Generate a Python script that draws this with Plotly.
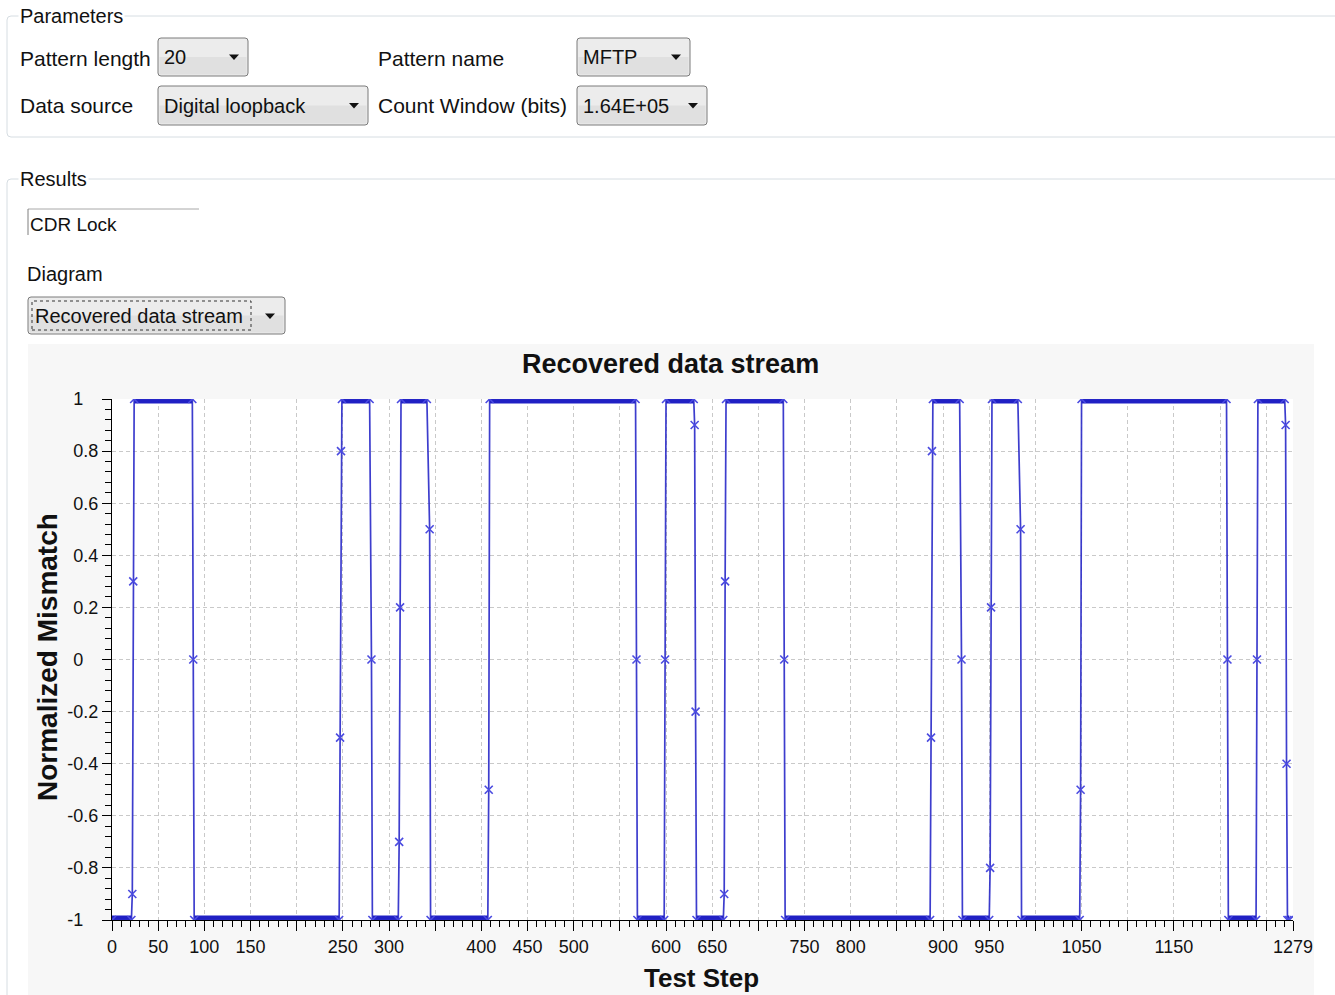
import plotly.graph_objects as go

# ---------------- data ----------------
test_step = [0, 21, 22, 23, 24, 87, 88, 89, 246, 247, 248, 249, 279, 281, 282,
             310, 311, 312, 313, 341, 344, 345, 407, 408, 409, 567, 568, 569,
             598, 599, 600, 630, 631, 632, 633, 662, 663, 664, 665, 727, 728, 729,
             886, 887, 888, 889, 918, 920, 921, 950, 951, 952, 953, 981, 984, 985,
             1048, 1049, 1050, 1207, 1208, 1209, 1239, 1240, 1241, 1270, 1271, 1272,
             1273, 1275]
mismatch = [-1, -1, -0.9, 0.3, 1, 1, 0, -1, -1, -0.3, 0.8, 1, 1, 0, -1,
            -1, -0.7, 0.2, 1, 1, 0.5, -1, -1, -0.5, 1, 1, 0, -1,
            -1, 0, 1, 1, 0.9, -0.2, -1, -1, -0.9, 0.3, 1, 1, 0, -1,
            -1, -0.3, 0.8, 1, 1, 0, -1, -1, -0.8, 0.2, 1, 1, 0.5, -1,
            -1, -0.5, 1, 1, 0, -1, -1, 0, 1, 1, 0.9, -0.4,
            -1, -1]

x_tick_vals = [0, 50, 100, 150, 200, 250, 300, 350, 400, 450, 500, 550, 600, 650,
               700, 750, 800, 850, 900, 950, 1000, 1050, 1100, 1150, 1200, 1250, 1279]
x_tick_text = ['0', '50', '100', '150', '', '250', '300', '', '400', '450', '500', '',
               '600', '650', '', '750', '800', '', '900', '950', '', '1050', '', '1150',
               '', '', '1279']
y_tick_vals = [-1, -0.8, -0.6, -0.4, -0.2, 0, 0.2, 0.4, 0.6, 0.8, 1]
y_tick_text = ['-1\u2008\u2007', '-0.8', '-0.6', '-0.4', '-0.2', '0\u2008\u2007',
               '0.2', '0.4', '0.6', '0.8', '1\u2008\u2007']

chart_title = 'Recovered data stream'
x_title = 'Test Step'
y_title = 'Normalized Mismatch'

param_labels = ['Pattern length', 'Pattern name', 'Data source', 'Count Window (bits)']
combo_values = ['20', 'MFTP', 'Digital loopback', '1.64E+05']
group_titles = ['Parameters', 'Results']
result_field = 'CDR Lock'
diagram_label = 'Diagram'
diagram_value = 'Recovered data stream'

# ---------------- geometry ----------------
W, H = 1335, 995
L, R, T, B = 112, 42, 399, 75
PW, PH = W - L - R, H - T - B


def X(px):
    return (px - L) / PW


def Y(py):
    return (H - B - py) / PH


GUI_FONT = 'Liberation Sans, Arial, sans-serif'
TICK_FONT = 'Liberation Sans, Arial, sans-serif'

# plateau segments (dense samples at +/-1 appear as thick bars)
plat_x, plat_y = [], []
for i in range(len(test_step) - 1):
    if abs(mismatch[i]) == 1 and mismatch[i] == mismatch[i + 1]:
        plat_x += [test_step[i], test_step[i + 1], None]
        plat_y += [mismatch[i], mismatch[i + 1], None]

fig = go.Figure()
fig.add_trace(go.Scatter(x=plat_x, y=plat_y, mode='lines',
                         line=dict(color='#2020c4', width=9),
                         hoverinfo='skip', showlegend=False))
fig.add_trace(go.Scatter(x=test_step, y=mismatch, mode='lines+markers',
                         line=dict(color='rgba(40,40,200,0.9)', width=1.7),
                         marker=dict(symbol='x-thin', size=8, color='#4a4ae0',
                                     line=dict(color='#4a4ae0', width=1.6)),
                         showlegend=False))

shapes = []


def rrect(x0, y0, x1, y1, r, line_color, fill=None, width=1, dash=None):
    p = (f"M{X(x0 + r)},{Y(y0)} L{X(x1 - r)},{Y(y0)} Q{X(x1)},{Y(y0)} {X(x1)},{Y(y0 + r)} "
         f"L{X(x1)},{Y(y1 - r)} Q{X(x1)},{Y(y1)} {X(x1 - r)},{Y(y1)} "
         f"L{X(x0 + r)},{Y(y1)} Q{X(x0)},{Y(y1)} {X(x0)},{Y(y1 - r)} "
         f"L{X(x0)},{Y(y0 + r)} Q{X(x0)},{Y(y0)} {X(x0 + r)},{Y(y0)} Z")
    d = dict(type='path', path=p, xref='paper', yref='paper', layer='above',
             line=dict(color=line_color, width=width))
    if dash:
        d['line']['dash'] = dash
    if fill:
        d['fillcolor'] = fill
    shapes.append(d)


def rect(x0, y0, x1, y1, fill, line=None, layer='below', dash=None, width=1):
    d = dict(type='rect', xref='paper', yref='paper', x0=X(x0), x1=X(x1), y0=Y(y1), y1=Y(y0),
             fillcolor=fill, layer=layer, line=dict(width=0 if line is None else width,
                                                   color=line or 'rgba(0,0,0,0)'))
    if dash:
        d['line']['dash'] = dash
    shapes.append(d)


def seg(x0, y0, x1, y1, color, width=1):
    shapes.append(dict(type='line', xref='paper', yref='paper', x0=X(x0), x1=X(x1),
                       y0=Y(y0), y1=Y(y1), layer='above', line=dict(color=color, width=width)))


def arrow(cx, cy):
    p = f"M{X(cx - 5)},{Y(cy - 2.5)} L{X(cx + 5)},{Y(cy - 2.5)} L{X(cx)},{Y(cy + 3)} Z"
    shapes.append(dict(type='path', path=p, xref='paper', yref='paper', layer='above',
                       fillcolor='#111111', line=dict(width=0)))


annotations = []


def text(px, py, s, size=21, bold=False, anchor='left', bg=None, angle=0, family=GUI_FONT):
    a = dict(x=X(px), y=Y(py), xref='paper', yref='paper', text=f'<b>{s}</b>' if bold else s,
             showarrow=False, xanchor=anchor, yanchor='middle', textangle=angle,
             font=dict(family=family, size=size, color='#111111'))
    if bg:
        a['bgcolor'] = bg
    annotations.append(a)


# chart panel background and white plot area
rect(28, 344, 1314, 1000, '#f7f7f7')
rect(L, T, L + PW, T + PH, '#ffffff')

# group boxes
rrect(7, 16, 1350, 137, 4, '#d6dde2')
rrect(7, 179, 1350, 1100, 4, '#d6dde2')
text(18, 16, group_titles[0], size=20, bg='#ffffff')
text(18, 179, group_titles[1], size=20, bg='#ffffff')

# parameter labels
text(18, 58, param_labels[0])
text(376, 58, param_labels[1])
text(18, 106, param_labels[2])
text(376, 106, param_labels[3])

# combo boxes
combos = [(158, 38, 248, 76), (577, 38, 690, 76), (158, 86, 368, 125), (577, 86, 707, 125)]
for (x0, y0, x1, y1), val in zip(combos, combo_values):
    rrect(x0, y0, x1, y1, 3, '#7a7a7a', fill='#ececec')
    rect(x0 + 1.5, (y0 + y1) / 2, x1 - 1.5, y1 - 1.5, '#e0e0e0', layer='above')
    text(x0 + 4, (y0 + y1) / 2, val, size=20)
    arrow(x1 - 14, (y0 + y1) / 2)

# results: CDR Lock field
seg(28, 209, 199, 209, '#a8a8a8')
seg(28, 209, 28, 235, '#7f7f7f')
text(28, 224, result_field, size=19)
text(25, 274, diagram_label, size=20)

# diagram combo
rrect(28, 297, 285, 334, 3, '#7a7a7a', fill='#ececec')
rect(29.5, 315.5, 283.5, 332.5, '#e0e0e0', layer='above')
rect(32, 301, 251, 330, 'rgba(0,0,0,0)', line='#333333', layer='above', dash='dot')
text(33, 316, diagram_value, size=20)
arrow(270, 316)

# chart titles
text(670, 364, chart_title, size=27, bold=True, anchor='center')
text(701, 978, x_title, size=26, bold=True, anchor='center')
text(47, 657, y_title, size=28, bold=True, anchor='center', angle=-90)

fig.update_layout(
    width=W, height=H,
    margin=dict(l=L, r=R, t=T, b=B, pad=0),
    paper_bgcolor='#ffffff', plot_bgcolor='#ffffff',
    shapes=shapes, annotations=annotations,
    showlegend=False,
    xaxis=dict(range=[0, 1279], tickmode='array', tickvals=x_tick_vals, ticktext=x_tick_text,
               ticks='outside', ticklen=10, tickwidth=1, tickcolor='#000000',
               showline=True, linecolor='#000000', linewidth=1.2,
               showgrid=True, gridcolor='#c9c9c9', gridwidth=1, griddash='4px,3px',
               zeroline=False, ticklabelstandoff=0,
               tickfont=dict(family=TICK_FONT, size=18, color='#111111'),
               minor=dict(tick0=0, dtick=10, ticks='outside', ticklen=6, tickcolor='#000000',
                          showgrid=False)),
    yaxis=dict(range=[-1, 1], tickmode='array', tickvals=y_tick_vals, ticktext=y_tick_text,
               ticks='outside', ticklen=9, tickwidth=1, tickcolor='#000000',
               showline=True, linecolor='#000000', linewidth=1.2,
               showgrid=True, gridcolor='#c9c9c9', gridwidth=1, griddash='4px,3px',
               zeroline=False, ticklabelstandoff=0,
               tickfont=dict(family=TICK_FONT, size=18, color='#111111'),
               minor=dict(tick0=-1, dtick=0.04, ticks='outside', ticklen=6, tickcolor='#000000',
                          showgrid=False)),
)

fig.write_html('out.html', config={'displayModeBar': False},
               post_script="document.body.style.margin='0px';")
